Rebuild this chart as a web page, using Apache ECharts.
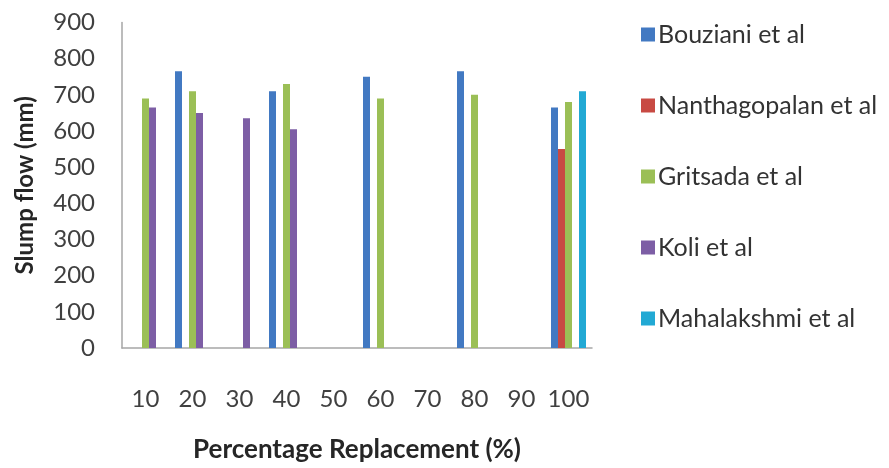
<!DOCTYPE html>
<html>
<head>
<meta charset="utf-8">
<script src="https://cdn.jsdelivr.net/npm/echarts@6/dist/echarts.min.js"></script>
<style>
  html, body { margin: 0; padding: 0; background: #ffffff; }
  #chart { width: 889px; height: 468px; }
</style>
</head>
<body>
<div id="chart"></div>
<script>
// Slump flow by percentage replacement, grouped by study
const categories = ['10', '20', '30', '40', '50', '60', '70', '80', '90', '100'];
const yTicks = [0, 100, 200, 300, 400, 500, 600, 700, 800, 900];

const bouziani      = [null, 765, null, 710, null, 750, null, 765, null, 665];
const nanthagopalan = [null, null, null, null, null, null, null, null, null, 550];
const gritsada      = [690, 710, null, 730, null, 690, null, 700, null, 680];
const koli          = [665, 650, 635, 605, null, null, null, null, null, null];
const mahalakshmi   = [null, null, null, null, null, null, null, null, null, 710];

const seriesDefs = [
  { name: 'Bouziani et al', data: bouziani, color: '#4279c2' },
  { name: 'Nanthagopalan et al', data: nanthagopalan, color: '#c84a43' },
  { name: 'Gritsada et al', data: gritsada, color: '#9bbf56' },
  { name: 'Koli et al', data: koli, color: '#7d5ea5' },
  { name: 'Mahalakshmi et al', data: mahalakshmi, color: '#22a9d4' }
];

const FONT = 'Lato, "Open Sans", sans-serif';
const chart = echarts.init(document.getElementById('chart'), null, { renderer: 'canvas' });

chart.setOption({
  animation: false,
  backgroundColor: '#ffffff',
  grid: { left: 122, top: 22.5, right: 297, bottom: 112, containLabel: false },
  legend: {
    orient: 'vertical',
    left: 636,
    top: 17,
    itemWidth: 14,
    itemHeight: 14,
    itemGap: 46,
    icon: 'rect',
    textStyle: { fontFamily: FONT, fontSize: 25, color: '#333333', padding: [0, 0, 0, -2] },
    data: seriesDefs.map(s => s.name)
  },
  xAxis: {
    type: 'category',
    data: categories,
    name: 'Percentage Replacement (%)',
    nameLocation: 'middle',
    nameGap: 89,
    nameTextStyle: { fontFamily: FONT, fontSize: 26, fontWeight: 'bold', color: '#262626' },
    axisLine: { lineStyle: { color: '#a6a6a6', width: 1.5 } },
    axisTick: { show: false },
    axisLabel: { fontFamily: FONT, fontSize: 24, color: '#404040', margin: 39, interval: 0 }
  },
  yAxis: {
    type: 'value',
    min: 0,
    max: yTicks[yTicks.length - 1],
    interval: yTicks[1] - yTicks[0],
    name: 'Slump flow (mm)',
    nameLocation: 'middle',
    nameGap: 85,
    nameRotate: 90,
    nameTextStyle: { fontFamily: FONT, fontSize: 24, fontWeight: 'bold', color: '#262626' },
    axisLine: { show: true, lineStyle: { color: '#a6a6a6', width: 1.5 } },
    axisTick: { show: false },
    splitLine: { show: false },
    axisLabel: { fontFamily: FONT, fontSize: 24, color: '#404040', margin: 27 }
  },
  series: seriesDefs.map(s => ({
    name: s.name,
    type: 'bar',
    data: s.data,
    barWidth: 7,
    barGap: '0%',
    itemStyle: { color: s.color }
  }))
});
</script>
</body>
</html>
